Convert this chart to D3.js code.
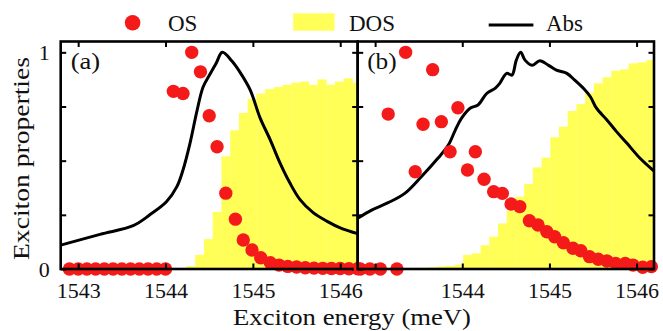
<!DOCTYPE html>
<html>
<head>
  <title>Exciton properties</title>
  <script src="https://d3js.org/d3.v7.min.js"></script>
  <style>
    body { margin: 0; background: #fff; }
    text { font-family: "Liberation Serif", "Times New Roman", Times, serif; fill: #111; }
  </style>
</head>
<body>
<script type="text/javascript">

  var w = 663;
  var h = 331;

  // tick values
  var energyTicks = [1543, 1544, 1545, 1546];
  var yTicks = [0, 0.25, 0.5, 0.75, 1];

  // panel (a)
  var absA_E = [1542.8, 1543.25, 1543.63, 1543.82, 1544.01, 1544.13, 1544.2, 1544.28, 1544.36, 1544.43, 1544.51, 1544.58, 1544.65, 1544.76, 1544.85, 1544.97, 1545.08, 1545.2, 1545.31, 1545.42, 1545.54, 1545.69, 1545.85, 1546.0, 1546.2];
  var absA_V = [0.11, 0.16, 0.2, 0.25, 0.31, 0.38, 0.457, 0.58, 0.73, 0.84, 0.9, 0.95, 1.0, 0.96, 0.91, 0.826, 0.7, 0.595, 0.49, 0.4, 0.32, 0.26, 0.22, 0.19, 0.163];

  var osA_E = [1542.9, 1543.0, 1543.1, 1543.2, 1543.3, 1543.4, 1543.5, 1543.6, 1543.7, 1543.8, 1543.9, 1544.0, 1544.09, 1544.2, 1544.3, 1544.4, 1544.5, 1544.59, 1544.69, 1544.8, 1544.89, 1544.99, 1545.09, 1545.2, 1545.3, 1545.4, 1545.5, 1545.6, 1545.7, 1545.8, 1545.9, 1546.0, 1546.1, 1546.2];
  var osA_V = [0, 0, 0, 0, 0, 0, 0, 0, 0, 0, 0, 0, 0.82, 0.81, 1.0, 0.91, 0.707, 0.564, 0.35, 0.23, 0.134, 0.088, 0.052, 0.029, 0.018, 0.012, 0.009, 0.006, 0.004, 0.003, 0.002, 0.002, 0.001, 0.001];

  var dosA_E = [1544.29, 1544.39, 1544.49, 1544.59, 1544.69, 1544.79, 1544.89, 1544.99, 1545.09, 1545.19, 1545.29, 1545.39, 1545.49, 1545.59, 1545.69, 1545.79, 1545.89, 1545.99, 1546.09, 1546.19];
  var dosA_V = [0.014, 0.065, 0.138, 0.264, 0.52, 0.64, 0.72, 0.785, 0.81, 0.83, 0.84, 0.85, 0.86, 0.865, 0.85, 0.875, 0.85, 0.865, 0.88, 0.86];

  // panel (b)
  var absB_E = [1542.8, 1542.96, 1543.15, 1543.34, 1543.53, 1543.72, 1543.84, 1543.92, 1543.99, 1544.09, 1544.18, 1544.28, 1544.38, 1544.43, 1544.51, 1544.57, 1544.62, 1544.67, 1544.72, 1544.8, 1544.89, 1544.99, 1545.08, 1545.2, 1545.29, 1545.39, 1545.47, 1545.54, 1545.66, 1545.77, 1545.89, 1546.04, 1546.2];
  var absB_V = [0.234, 0.272, 0.306, 0.349, 0.426, 0.511, 0.572, 0.641, 0.695, 0.742, 0.757, 0.81, 0.835, 0.857, 0.903, 0.895, 0.964, 1.0, 0.964, 0.94, 0.961, 0.94, 0.918, 0.903, 0.872, 0.834, 0.795, 0.742, 0.688, 0.634, 0.58, 0.511, 0.452];

  var osB_E = [1542.83, 1542.94, 1543.06, 1543.15, 1543.25, 1543.35, 1543.46, 1543.55, 1543.66, 1543.76, 1543.86, 1543.95, 1544.06, 1544.15, 1544.25, 1544.36, 1544.46, 1544.56, 1544.66, 1544.77, 1544.87, 1544.97, 1545.06, 1545.16, 1545.27, 1545.36, 1545.46, 1545.56, 1545.66, 1545.76, 1545.87, 1545.96, 1546.07, 1546.17];
  var osB_V = [0, 0, 0, 0.715, 0, 1.0, 0.449, 0.668, 0.92, 0.68, 0.541, 0.744, 0.457, 0.541, 0.414, 0.357, 0.349, 0.3, 0.288, 0.223, 0.203, 0.172, 0.149, 0.121, 0.096, 0.084, 0.057, 0.045, 0.037, 0.026, 0.026, 0.018, 0.008, 0.011];

  var dosB_E = [1543.56, 1543.66, 1543.76, 1543.86, 1543.96, 1544.06, 1544.16, 1544.26, 1544.36, 1544.46, 1544.56, 1544.66, 1544.76, 1544.86, 1544.96, 1545.06, 1545.16, 1545.26, 1545.36, 1545.46, 1545.56, 1545.66, 1545.76, 1545.86, 1545.96, 1546.06, 1546.16];
  var dosB_V = [0.005, 0.008, 0.012, 0.015, 0.02, 0.065, 0.072, 0.11, 0.149, 0.21, 0.27, 0.334, 0.392, 0.469, 0.514, 0.608, 0.657, 0.729, 0.761, 0.814, 0.857, 0.885, 0.915, 0.921, 0.949, 0.954, 0.964];

  var red = "#f51a1a";
  var yellow = "#ffff58";
  var binW = 0.1;
  var serif = "'Liberation Serif', 'Times New Roman', Times, serif";

  var svg = d3.select("body").append("svg")
          .attr("width", w)
          .attr("height", h);

  var plotTop = 41.5, plotBottom = 269;
  var yScale = d3.scaleLinear().domain([0, 1.05]).range([plotBottom, plotTop]);

  var panels = [
    {id: "a", x0: 60.7, x1: 357.7, absE: absA_E, absV: absA_V, osE: osA_E, osV: osA_V, dosE: dosA_E, dosV: dosA_V, labels: [1543, 1544, 1545, 1546], yLabels: true},
    {id: "b", x0: 357.7, x1: 654, absE: absB_E, absV: absB_V, osE: osB_E, osV: osB_V, dosE: dosB_E, dosV: dosB_V, labels: [1544, 1545, 1546], yLabels: false}
  ];

  var defs = svg.append("defs");

  panels.forEach(function(p) {
    var xScale = d3.scaleLinear().domain([1542.8, 1546.2]).range([p.x0, p.x1]);

    defs.append("clipPath").attr("id", "clip-" + p.id)
      .append("rect")
      .attr("x", p.x0).attr("y", plotTop)
      .attr("width", p.x1 - p.x0).attr("height", plotBottom - plotTop);

    var g = svg.append("g").attr("clip-path", "url(#clip-" + p.id + ")");

    // DOS bars
    g.selectAll("rect.dos")
      .data(p.dosE)
      .enter()
      .append("rect")
      .attr("class", "dos")
      .attr("x", function(d) { return xScale(d - binW / 2); })
      .attr("width", function(d) { return xScale(d + binW / 2) - xScale(d - binW / 2) + 0.3; })
      .attr("y", function(d, i) { return yScale(p.dosV[i]); })
      .attr("height", function(d, i) { return yScale(0) - yScale(p.dosV[i]); })
      .attr("fill", yellow);

    // Abs line
    var line = d3.line()
      .x(function(d) { return xScale(d); })
      .y(function(d, i) { return yScale(p.absV[i]); })
      .curve(d3.curveCatmullRom.alpha(0.5));

    g.append("path")
      .datum(p.absE)
      .attr("d", line)
      .attr("fill", "none")
      .attr("stroke", "#000")
      .attr("stroke-width", 3);

    // OS dots
    svg.append("g").selectAll("circle")
      .data(p.osE)
      .enter()
      .append("circle")
      .attr("cx", function(d) { return xScale(d); })
      .attr("cy", function(d, i) { return yScale(p.osV[i]); })
      .attr("r", 6.7)
      .attr("fill", red);

    // axes with inward ticks
    var tk = -5.5;
    var ax = svg.append("g").attr("class", "axes");

    var bottomAxis = d3.axisBottom(xScale).tickValues(energyTicks).tickSize(tk).tickPadding(13)
      .tickFormat(function(d) { return p.labels.indexOf(d) >= 0 ? d : ""; });
    ax.append("g").attr("transform", "translate(0," + plotBottom + ")").call(bottomAxis);

    ax.append("g").attr("transform", "translate(0," + plotTop + ")")
      .call(d3.axisTop(xScale).tickValues(energyTicks).tickSize(tk).tickFormat(""));

    var leftAxis = d3.axisLeft(yScale).tickValues(yTicks).tickSize(tk).tickPadding(11)
      .tickFormat(function(d) { return (p.yLabels && (d === 0 || d === 1)) ? d : ""; });
    ax.append("g").attr("transform", "translate(" + p.x0 + ",0)").call(leftAxis);

    ax.append("g").attr("transform", "translate(" + p.x1 + ",0)")
      .call(d3.axisRight(yScale).tickValues(yTicks).tickSize(tk).tickFormat(""));

    ax.selectAll(".domain").remove();
    ax.selectAll("g").attr("font-family", serif);
    ax.selectAll(".tick line").attr("stroke", "#000").attr("stroke-width", 2);
    ax.selectAll(".tick text")
      .style("font-family", serif)
      .style("font-size", "22px")
      .attr("fill", "#111");

    // frame
    svg.append("rect")
      .attr("x", p.x0).attr("y", plotTop)
      .attr("width", p.x1 - p.x0).attr("height", plotBottom - plotTop)
      .attr("fill", "none")
      .attr("stroke", "#000")
      .attr("stroke-width", 2.6);

    // panel label
    svg.append("text")
      .attr("x", p.x0 + (p.id === "a" ? 10 : 9.5))
      .attr("y", 68.5)
      .attr("font-size", 24)
      .attr("textLength", 29.5)
      .attr("lengthAdjust", "spacingAndGlyphs")
      .text("(" + p.id + ")");
  });

  // axis titles
  svg.append("text")
    .attr("x", 352)
    .attr("y", 325)
    .attr("text-anchor", "middle")
    .attr("font-size", 24)
    .attr("textLength", 238)
    .attr("lengthAdjust", "spacingAndGlyphs")
    .text("Exciton energy (meV)");

  svg.append("text")
    .attr("transform", "translate(29,158.5) rotate(-90)")
    .attr("text-anchor", "middle")
    .attr("font-size", 24)
    .attr("textLength", 203)
    .attr("lengthAdjust", "spacingAndGlyphs")
    .text("Exciton properties");

  // legend
  var legend = svg.append("g").attr("class", "legend");
  legend.append("circle").attr("cx", 132.6).attr("cy", 22.7).attr("r", 7.8).attr("fill", red);
  legend.append("text").attr("x", 168).attr("y", 30.7).attr("font-size", 23).text("OS");
  legend.append("rect").attr("x", 293.2).attr("y", 13.3).attr("width", 41.3).attr("height", 17.4).attr("fill", yellow);
  legend.append("text").attr("x", 349).attr("y", 30.7).attr("font-size", 23).text("DOS");
  legend.append("line").attr("x1", 488.7).attr("x2", 533.4).attr("y1", 25).attr("y2", 25)
    .attr("stroke", "#000").attr("stroke-width", 3);
  legend.append("text").attr("x", 546).attr("y", 30.7).attr("font-size", 23).text("Abs");

</script>
</body>
</html>
